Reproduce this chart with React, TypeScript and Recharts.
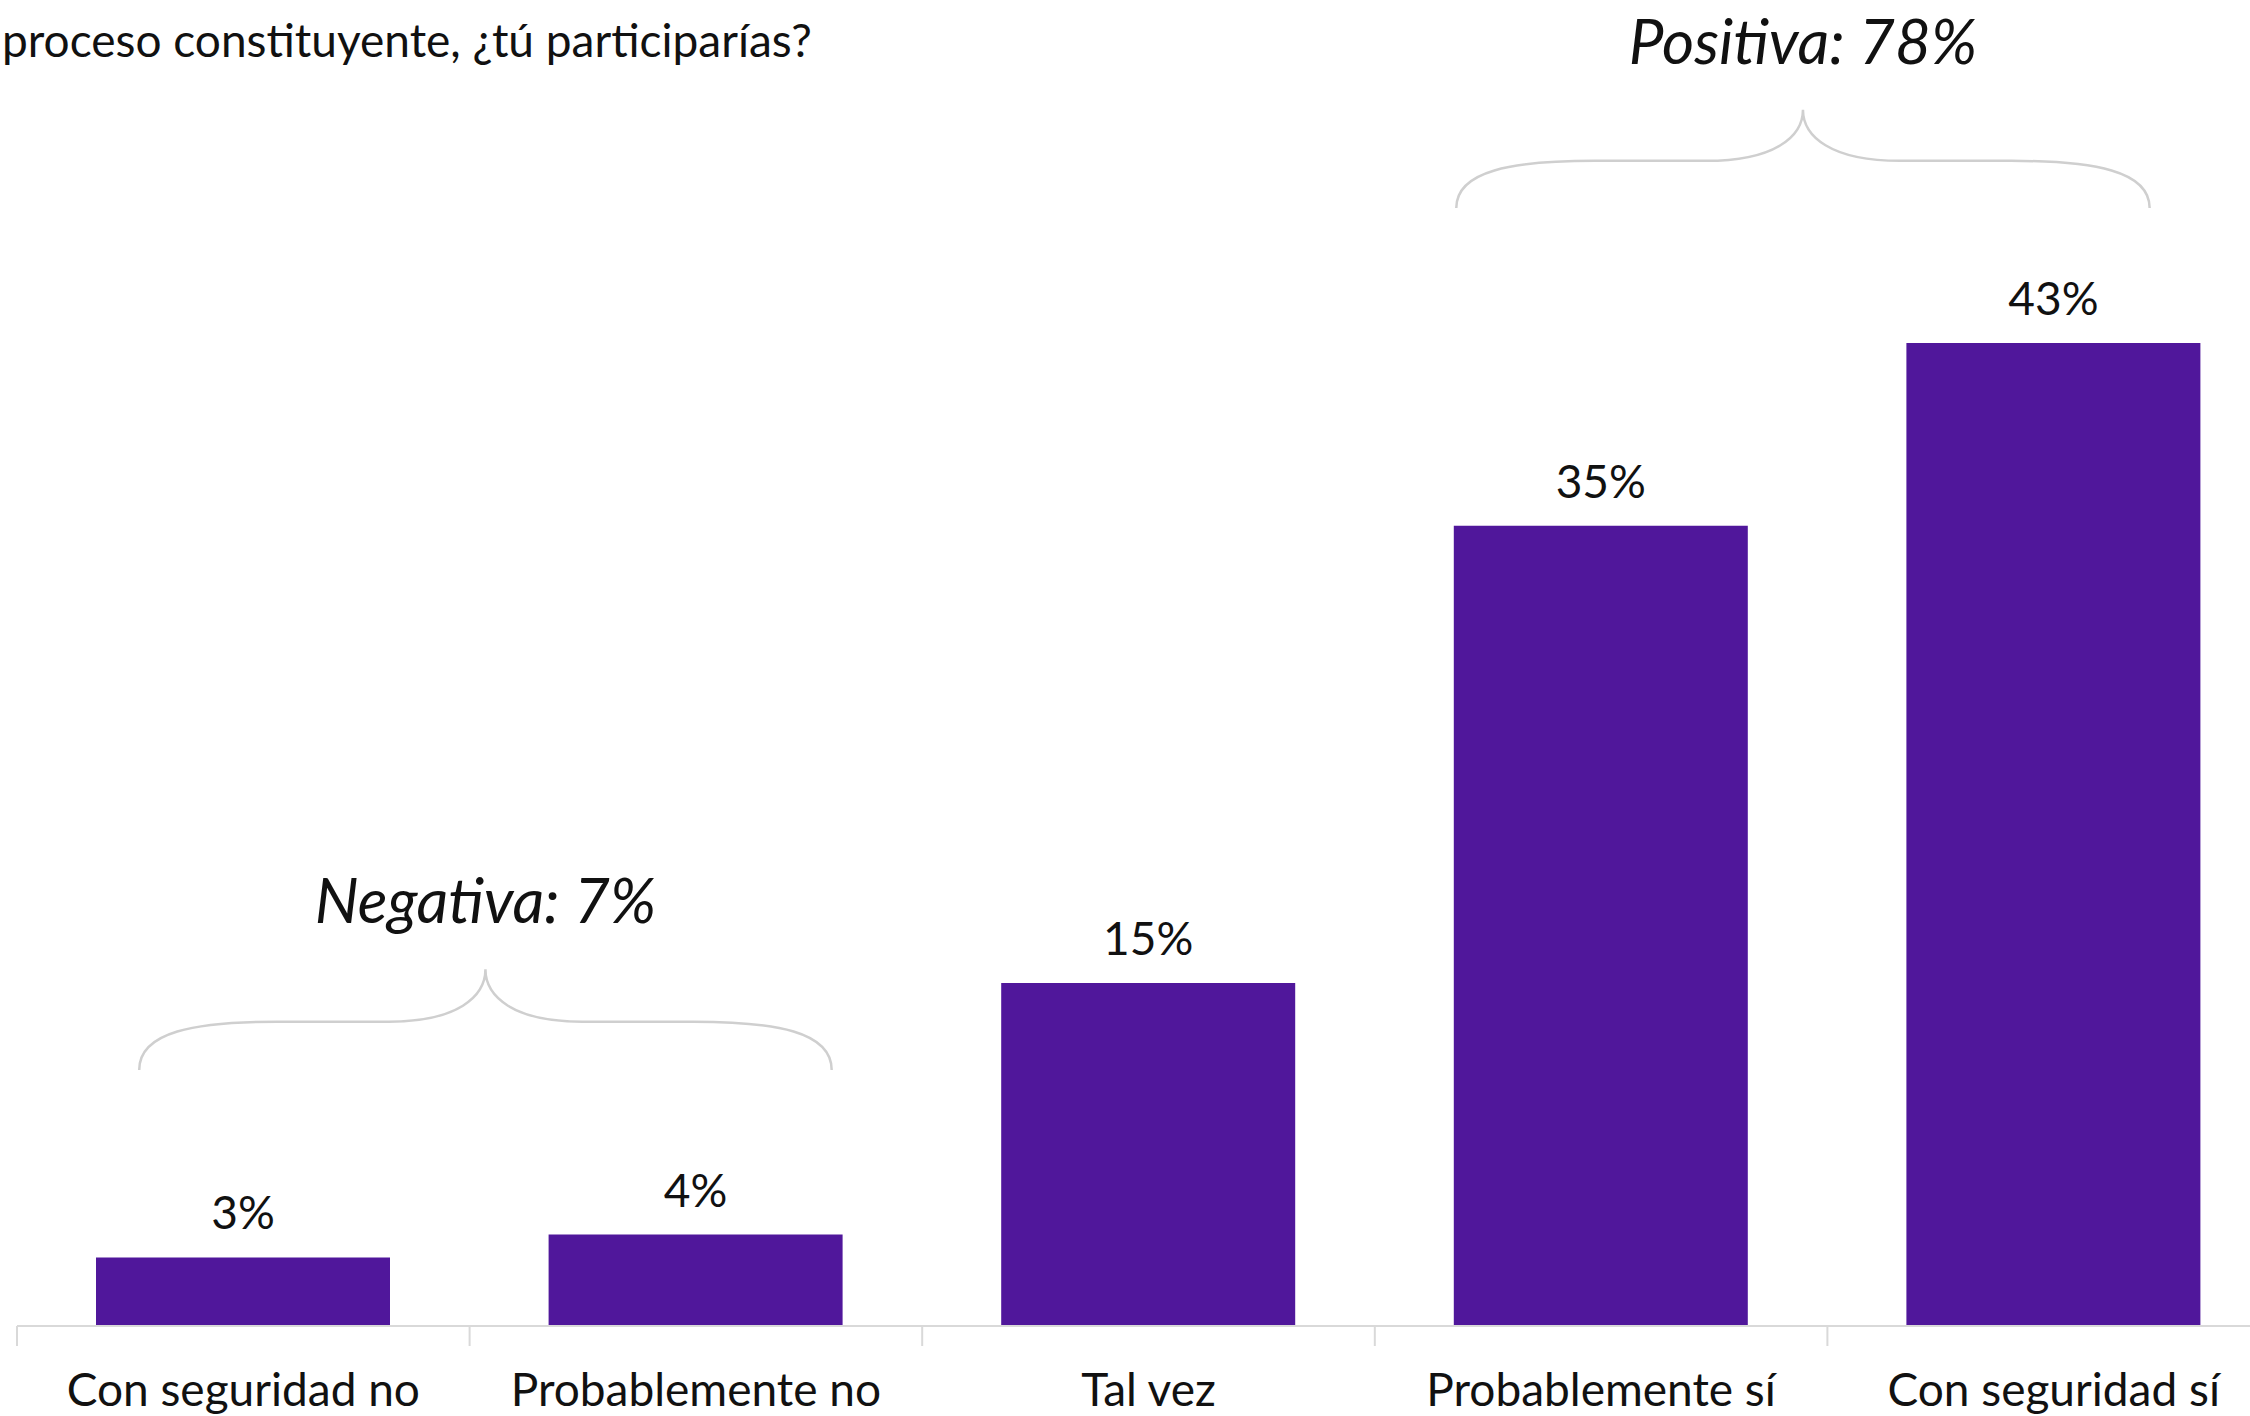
import React from "react"
import { BarChart, Bar, XAxis, YAxis, LabelList, ReferenceArea } from "recharts"

const categories = [
  "Con seguridad no",
  "Probablemente no",
  "Tal vez",
  "Probablemente sí",
  "Con seguridad sí",
]
const shares = [3, 4, 15, 35, 43]

const groupLabels = ["Negativa: 7%", "Positiva: 78%"]
const groupFrom = ["Con seguridad no", "Probablemente sí"]
const groupTo = ["Probablemente no", "Con seguridad sí"]
// brace bottom / top in % units
const groupLow = [11.2, 48.9]
const groupHigh = [15.6, 53.2]

const title = "proceso constituyente, ¿tú participarías?"

const data = categories.map((name, i) => ({ name, value: shares[i] }))

const CHART_W = 2280
const CHART_H = 1416
const LEFT = 17
const AXIS_H = 90
const PLOT_W = CHART_W - LEFT
const BAND = PLOT_W / categories.length
const FONT = "Lato, 'Open Sans', sans-serif"
const PURPLE = "#50179b"

function CategoryTick(props: any) {
  const { x, y, payload } = props
  const start = x - BAND / 2
  return (
    <g>
      <line x1={start} y1={y - 8} x2={start} y2={y + 12} stroke="#d9d9d9" strokeWidth={2} />
      <text
        x={x}
        y={y + 72}
        textAnchor="middle"
        fontFamily={FONT}
        fontSize={46}
        fill="#111"
      >
        {payload.value}
      </text>
    </g>
  )
}

function Brace(props: any) {
  const { x, y, width, height, label, insetL, insetR } = props
  const x0 = x + width * insetL
  const x1 = x + width * (1 - insetR)
  const w = x1 - x0
  const xc = (x0 + x1) / 2
  const yt = y
  const yb = y + height
  const ym = y + height * 0.52
  const d = [
    `M ${x0} ${yb}`,
    `C ${x0} ${ym + height * 0.1} ${x0 + w * 0.08} ${ym} ${x0 + w * 0.2} ${ym}`,
    `L ${xc - w * 0.14} ${ym}`,
    `C ${xc - w * 0.04} ${ym} ${xc} ${ym - height * 0.25} ${xc} ${yt}`,
    `C ${xc} ${ym - height * 0.25} ${xc + w * 0.04} ${ym} ${xc + w * 0.14} ${ym}`,
    `L ${x1 - w * 0.2} ${ym}`,
    `C ${x1 - w * 0.08} ${ym} ${x1} ${ym + height * 0.1} ${x1} ${yb}`,
  ].join(" ")
  return (
    <g>
      <path d={d} fill="none" stroke="#cfcfcf" strokeWidth={2.5} />
      <text
        x={xc}
        y={yt - 70}
        textAnchor="middle"
        dominantBaseline="central"
        fontFamily={FONT}
        fontStyle="italic"
        fontSize={62}
        fill="#111"
      >
        {label}
      </text>
    </g>
  )
}

const insets = [
  [0.135, 0.1],
  [0.09, 0.144],
]

export default function App() {
  return (
    <div
      style={{
        position: "absolute",
        left: 0,
        top: 0,
        width: 2250,
        height: 1416,
        overflow: "hidden",
        background: "#fff",
      }}
    >
      <div
        style={{
          position: "absolute",
          left: 2,
          top: 12,
          fontFamily: FONT,
          fontSize: 46,
          color: "#111",
          whiteSpace: "nowrap",
          zIndex: 2,
        }}
      >
        {title}
      </div>
      <BarChart
        width={CHART_W}
        height={CHART_H}
        data={data}
        margin={{ top: 0, right: 0, left: LEFT, bottom: 0 }}
      >
        <XAxis
          dataKey="name"
          height={AXIS_H}
          interval={0}
          tickLine={false}
          axisLine={{ stroke: "#d9d9d9", strokeWidth: 2 }}
          tick={<CategoryTick />}
        />
        <YAxis hide domain={[0, 58]} />
        <Bar dataKey="value" fill={PURPLE} barSize={294} isAnimationActive={false}>
          <LabelList
            dataKey="value"
            position="top"
            offset={28}
            formatter={(v: any) => `${v}%`}
            style={{ fontFamily: FONT, fontSize: 46, fill: "#111" }}
          />
        </Bar>
        {groupLabels.map((label, i) => (
          <ReferenceArea
            key={label}
            x1={groupFrom[i]}
            x2={groupTo[i]}
            y1={groupLow[i]}
            y2={groupHigh[i]}
            ifOverflow="visible"
            shape={(p: any) => (
              <Brace {...p} label={label} insetL={insets[i][0]} insetR={insets[i][1]} />
            )}
          />
        ))}
      </BarChart>
    </div>
  )
}
